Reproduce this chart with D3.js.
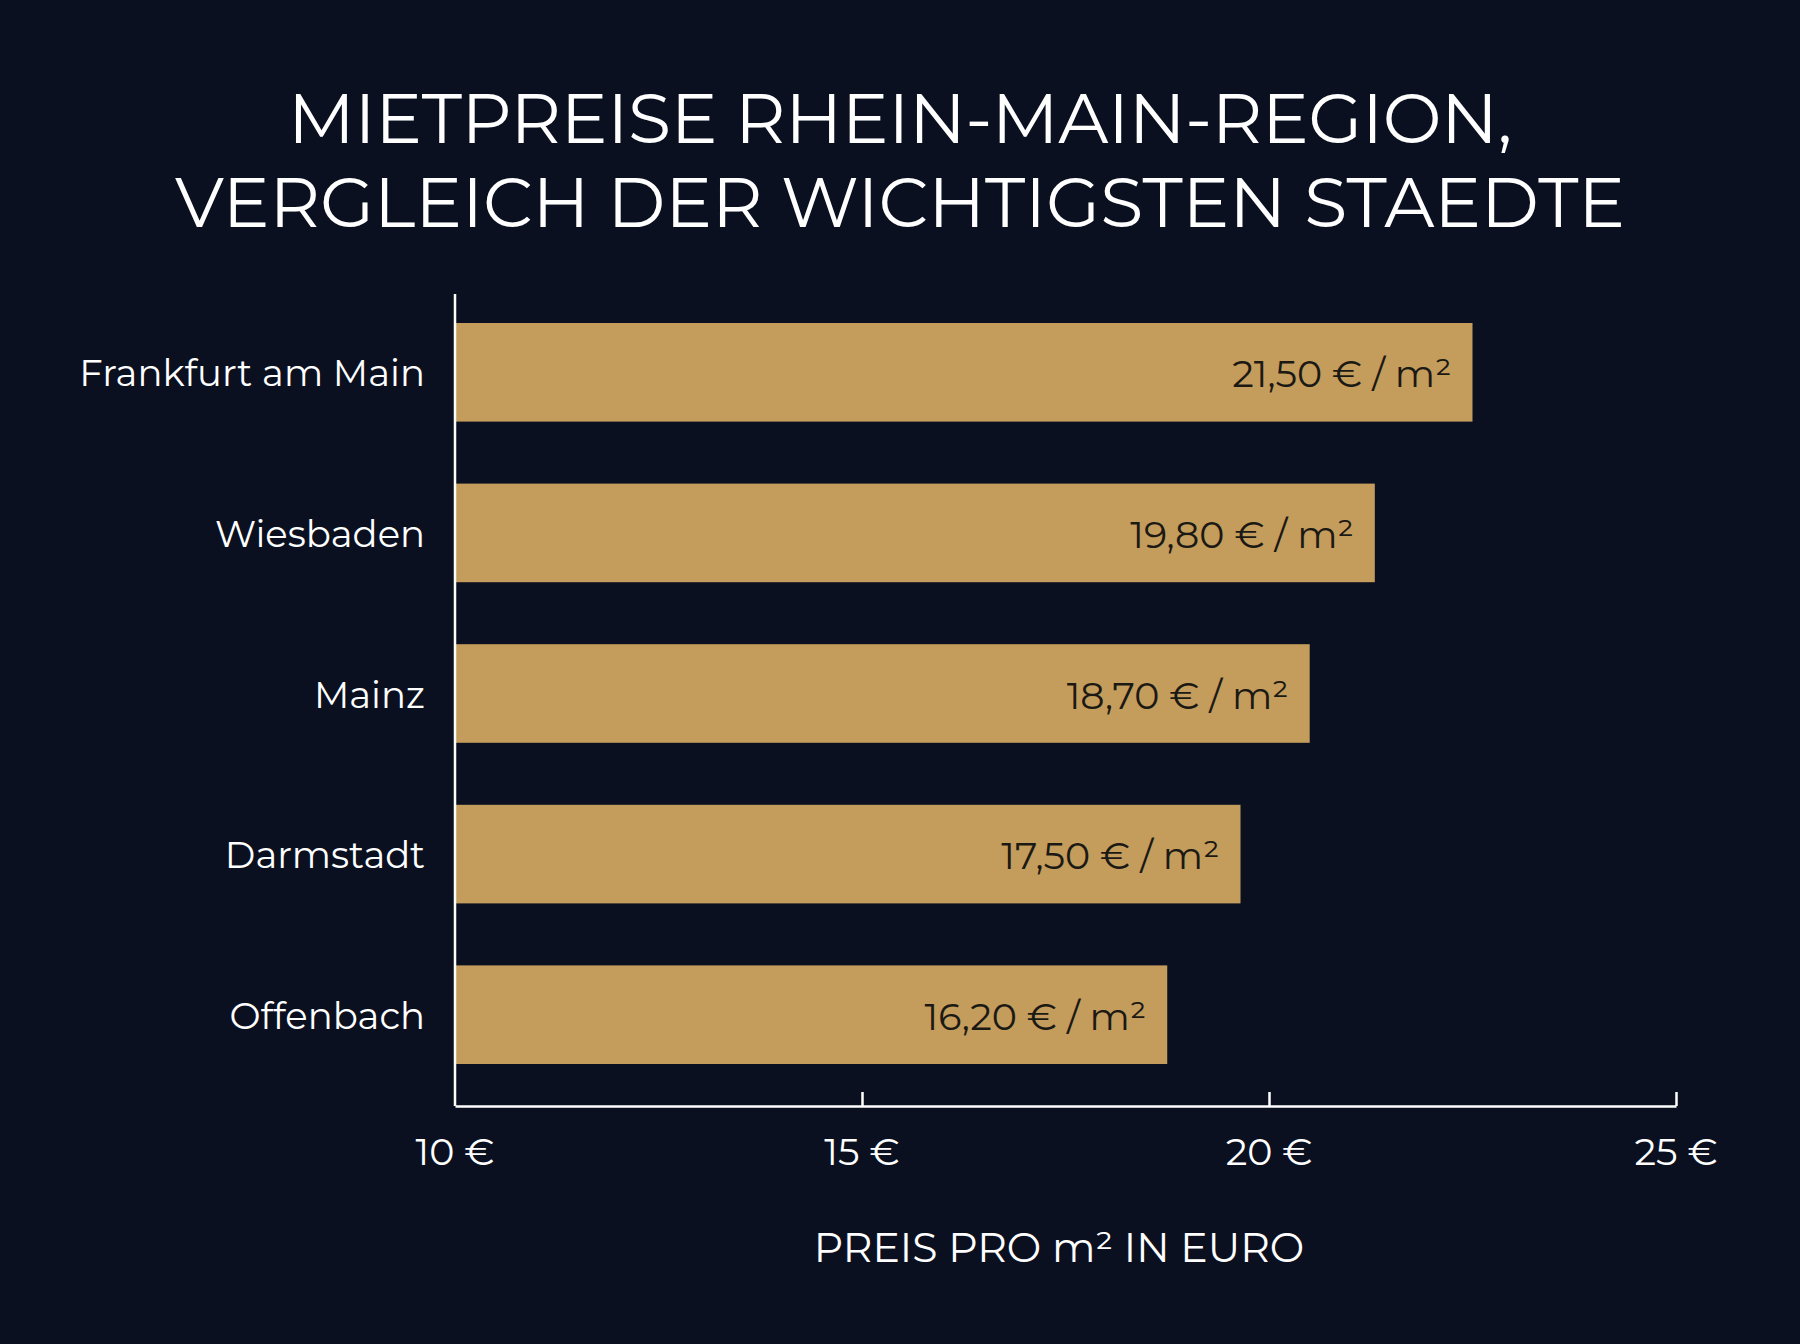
<!DOCTYPE html>
<html>
<head>
<meta charset="utf-8">
<script src="https://cdn.jsdelivr.net/npm/d3@7"></script>
<style>
  html, body { margin: 0; padding: 0; background: #0a1020; }
  svg { display: block; }
</style>
</head>
<body>
<script>
// data
const cities = ["Frankfurt am Main", "Wiesbaden", "Mainz", "Darmstadt", "Offenbach"];
// bar ends as drawn in the picture (they do not sit at the printed prices)
const barEnds = [22.5, 21.3, 20.5, 19.65, 18.75];
const priceLabels = ["21,50 € / m²", "19,80 € / m²", "18,70 € / m²", "17,50 € / m²", "16,20 € / m²"];
const xTicks = [10, 15, 20, 25];
const titleLines = ["MIETPREISE RHEIN-MAIN-REGION,", "VERGLEICH DER WICHTIGSTEN STAEDTE"];
const xTitle = "PREIS PRO m² IN EURO";

const W = 1800, H = 1344,
      font = "Montserrat, 'DejaVu Sans', sans-serif",
      bg = "#0a1020",
      gold = "#c49c5c",
      axisLeft = 455, axisRight = 1676,
      baseY = 1106, topY = 294;

const svg = d3.select("body").append("svg")
    .attr("width", W)
    .attr("height", H)
    .style("background-color", bg);

svg.append("rect").attr("width", W).attr("height", H).attr("fill", bg);

const x = d3.scaleLinear().domain([10, 25]).range([axisLeft, axisRight]);
const y = d3.scaleBand().domain(cities).range([323, 1064]).paddingInner(0.386).paddingOuter(0);

// fit text to a target width by letter-spacing
function fitWidth(sel, target) {
  sel.each(function() {
    const n = this.getNumberOfChars();
    const w = this.getComputedTextLength();
    d3.select(this).attr("letter-spacing", ((target - w) / n) + "px");
  });
}

// title
const titleW = [1224, 1450];
svg.selectAll("text.title")
  .data(titleLines)
  .join("text")
    .attr("class", "title")
    .attr("x", 900)
    .attr("y", (d, i) => [143, 227][i])
    .attr("text-anchor", "middle")
    .attr("fill", "#ffffff")
    .style("font-family", font)
    .style("font-size", "70px")
    .text(d => d)
    .each(function(d, i) { fitWidth(d3.select(this), titleW[i]); });

// bars
svg.selectAll("rect.bar")
  .data(cities)
  .join("rect")
    .attr("class", "bar")
    .attr("x", x(10))
    .attr("y", d => y(d))
    .attr("width", (d, i) => x(barEnds[i]) - x(10))
    .attr("height", y.bandwidth())
    .attr("fill", gold);

// value labels inside bars
svg.selectAll("text.val")
  .data(cities)
  .join("text")
    .attr("class", "val")
    .attr("x", (d, i) => x(barEnds[i]) - 21)
    .attr("y", d => y(d) + y.bandwidth() / 2 + 15)
    .attr("text-anchor", "end")
    .attr("fill", "#1b1914")
    .style("font-family", font)
    .style("font-size", "38px")
    .text((d, i) => priceLabels[i]);

// category labels
svg.selectAll("text.cat")
  .data(cities)
  .join("text")
    .attr("class", "cat")
    .attr("x", 425)
    .attr("y", d => y(d) + y.bandwidth() / 2 + 14)
    .attr("text-anchor", "end")
    .attr("fill", "#ffffff")
    .style("font-family", font)
    .style("font-size", "37px")
    .text(d => d);

// y axis line
svg.append("line")
    .attr("x1", axisLeft).attr("x2", axisLeft)
    .attr("y1", topY).attr("y2", baseY)
    .attr("stroke", "#ffffff").attr("stroke-width", 2.5);

// x axis
const xAxis = svg.append("g")
    .attr("transform", "translate(0," + baseY + ")")
    .call(d3.axisTop(x).tickValues(xTicks).tickSize(14).tickSizeOuter(0).tickFormat(""));
xAxis.select(".domain").attr("stroke", "#ffffff").attr("stroke-width", 2.5);
xAxis.selectAll(".tick line").attr("stroke", "#ffffff").attr("stroke-width", 2.5)
    .filter(d => d === 10).remove();

// tick labels
svg.selectAll("text.tick")
  .data(xTicks)
  .join("text")
    .attr("class", "tick")
    .attr("x", d => x(d))
    .attr("y", 1165)
    .attr("text-anchor", "middle")
    .attr("fill", "#ffffff")
    .style("font-family", font)
    .style("font-size", "38px")
    .text(d => d + " €");

// x axis title
svg.append("text")
    .attr("x", 1059)
    .attr("y", 1262)
    .attr("text-anchor", "middle")
    .attr("fill", "#ffffff")
    .style("font-family", font)
    .style("font-size", "41px")
    .text(xTitle);
</script>
</body>
</html>
